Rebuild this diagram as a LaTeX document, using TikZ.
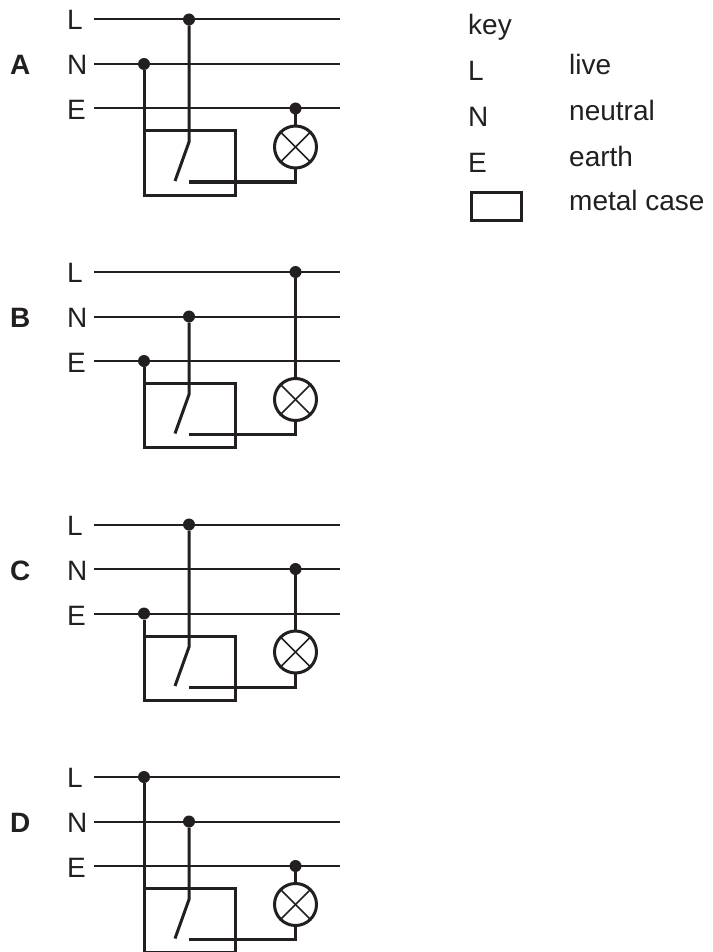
\documentclass[tikz,border=0pt]{standalone}
\usepackage{fontspec}
\setmainfont{Liberation Sans}
\usetikzlibrary{positioning}
\definecolor{ink}{HTML}{231F20}
\tikzset{
  wire/.style={draw=ink,line width=2pt},
  lead/.style={draw=ink,line width=3pt},
  dot/.style={circle,fill=ink,minimum size=12pt,inner sep=0pt,outer sep=0pt},
  lamp/.style={circle,draw=ink,line width=3pt,minimum size=42pt,inner sep=0pt,outer sep=0pt},
  casing/.style={draw=ink,line width=3pt,inner sep=0pt,outer sep=0pt},
  label/.style={anchor=base west,inner sep=0pt,text=ink,font=\fontsize{28}{30}\selectfont},
  letter/.style={label,font=\fontsize{28}{30}\selectfont\bfseries}
}
\begin{document}
\begin{tikzpicture}[x=1pt,y=-1pt]
\useasboundingbox (0,0) rectangle (712,952);
% the four circuits: letter/shift/y of switch feed/y of case wire/y of lamp wire
\foreach \p/\yo/\sw/\cs/\lm in {A/0/19.5/64/108.5,B/252.5/64/108.5/19.5,C/505/19.5/108.5/64,D/757.5/64/19.5/108.5}
{
\begin{scope}[shift={(0,\yo)}]
\node[letter] (name\p) at (10,75) {\p};
\node[label] (textL\p) at (67,30) {L};
\node[label] (textN\p) at (67,75) {N};
\node[label] (textE\p) at (67,120) {E};
\foreach \w/\wy in {L/19.5,N/64,E/108.5} {
  \coordinate (\w start\p) at (94,\wy);
  \coordinate (\w end\p) at (340,\wy);
  \draw[wire] (\w start\p) -- (\w end\p);
}
\node[casing,minimum width=91pt,minimum height=64pt] (case\p) at (189.5,163) {};
\node[lamp] (lamp\p) at (295.5,147) {};
\draw[ink,line width=1.5pt] (lamp\p.north west) -- (lamp\p.south east);
\draw[ink,line width=1.5pt] (lamp\p.north east) -- (lamp\p.south west);
\node[dot] (feed\p) at (189,\sw) {};
\node[dot] (earth\p) at (144,\cs) {};
\node[dot] (tap\p) at (295.5,\lm) {};
\coordinate (hinge\p) at (189,142);
\coordinate (tip\p) at (175,181);
\coordinate (contact\p) at (189,182);
\draw[lead] (feed\p) -- (hinge\p) -- (tip\p);
\draw[lead] (earth\p) -- (case\p.north west);
\draw[lead] (tap\p) -- (lamp\p.north);
\draw[lead] (contact\p) -| (lamp\p.south);
\end{scope}
}
% key
\node[label] (keyhead) at (468,35) {key};
\node[label] (keyL) at (468,81) {L};
\node[label] (keyN) at (468,127) {N};
\node[label] (keyE) at (468,172) {E};
\node[label] (live) at (569,75) {live};
\node[label] (neutral) at (569,120.5) {neutral};
\node[label] (earth) at (569,166.5) {earth};
\node[label] (metal) at (569,210) {metal case};
\node[casing,minimum width=50pt,minimum height=28pt] (keycase) at (496,206) {};
\end{tikzpicture}
\end{document}
